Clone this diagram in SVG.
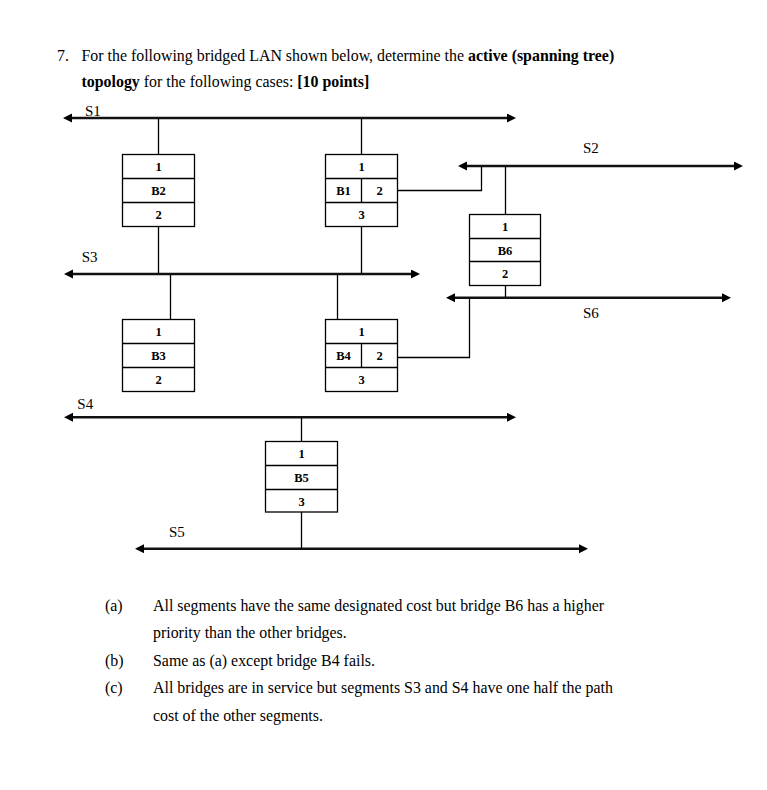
<svg xmlns="http://www.w3.org/2000/svg" width="767" height="790" viewBox="0 0 767 790">
<style>
.t{font-family:"Liberation Serif","Times New Roman",serif;font-size:15.9px;fill:#000}
.b{font-weight:bold}
.seg{stroke:#111;stroke-width:2.6;fill:none;marker-start:url(#ah);marker-end:url(#ah)}
.lab{font-family:"Liberation Serif","Times New Roman",serif;font-size:15px;fill:#000}
.box{fill:#fff;stroke:#000;stroke-width:1.3}
.div{stroke:#000;stroke-width:1.3}
.port{font-family:"Liberation Serif","Times New Roman",serif;font-size:12.5px;font-weight:bold;text-anchor:middle;fill:#000}
.con{stroke:#000;stroke-width:1.3;fill:none}
</style>
<defs>
<marker id="ah" markerUnits="userSpaceOnUse" markerWidth="10" markerHeight="10" refX="1" refY="4.5" orient="auto-start-reverse">
<path d="M0,0 L9,4.5 L0,9 z" fill="#000"/>
</marker>
</defs>
<rect width="767" height="790" fill="#fff"/>

<g id="question">
<text class="t" x="57" y="60.7">7.</text>
<text class="t" x="81.5" y="60.7">For the following bridged LAN shown below, determine the <tspan class="b">active (spanning tree)</tspan></text>
<text class="t" x="81.5" y="87"><tspan class="b">topology</tspan> for the following cases: <tspan class="b">[10 points]</tspan></text>
</g>

<g id="segments">
<line id="S1" class="seg" x1="71" y1="118" x2="508" y2="118"/>
<line id="S2" class="seg" x1="466" y1="166" x2="735" y2="166"/>
<line id="S3" class="seg" x1="72" y1="274" x2="412" y2="274"/>
<line id="S6" class="seg" x1="454" y1="297.7" x2="723" y2="297.7"/>
<line id="S4" class="seg" x1="72" y1="417.3" x2="508" y2="417.3"/>
<line id="S5" class="seg" x1="143" y1="548.7" x2="580" y2="548.7"/>
<text class="lab" x="85" y="115.5">S1</text>
<text class="lab" x="583" y="152.7">S2</text>
<text class="lab" x="81.7" y="262">S3</text>
<text class="lab" x="583" y="318">S6</text>
<text class="lab" x="77.3" y="409">S4</text>
<text class="lab" x="169" y="537.3">S5</text>
</g>

<g id="connectors">
<path class="con" d="M158.5,118 V154.5 M158.5,226.5 V274"/>
<path class="con" d="M361.5,118 V154.5 M361.5,226.5 V274"/>
<path class="con" d="M397.5,190.5 H481.5 V166"/>
<path class="con" d="M505.5,166 V214.5 M505.5,285.5 V297.7"/>
<path class="con" d="M170.5,274 V319.5"/>
<path class="con" d="M337.5,274 V319.5"/>
<path class="con" d="M397.5,357.5 H469.5 V297.7"/>
<path class="con" d="M301.5,417.3 V441.5 M301.5,512 V548.7"/>
</g>

<g id="B2">
<rect class="box" x="122.5" y="154.5" width="72" height="72"/>
<path class="div" d="M122.5,178.5 H194.5 M122.5,202.5 H194.5"/>
<text class="port" x="158.5" y="171">1</text>
<text class="port" x="158.5" y="195">B2</text>
<text class="port" x="158.5" y="219">2</text>
</g>

<g id="B1">
<rect class="box" x="325.5" y="154.5" width="72" height="72"/>
<path class="div" d="M325.5,178.5 H397.5 M325.5,202.5 H397.5 M361.5,178.5 V202.5"/>
<text class="port" x="361.5" y="171">1</text>
<text class="port" x="343.5" y="195">B1</text>
<text class="port" x="379.5" y="195">2</text>
<text class="port" x="361.5" y="219">3</text>
</g>

<g id="B6">
<rect class="box" x="469.5" y="214.5" width="71" height="71"/>
<path class="div" d="M469.5,238.5 H540.5 M469.5,261.5 H540.5"/>
<text class="port" x="505" y="231">1</text>
<text class="port" x="505" y="254.5">B6</text>
<text class="port" x="505" y="278">2</text>
</g>

<g id="B3">
<rect class="box" x="122.5" y="319.5" width="72" height="72"/>
<path class="div" d="M122.5,343.5 H194.5 M122.5,367.5 H194.5"/>
<text class="port" x="158.5" y="336">1</text>
<text class="port" x="158.5" y="360">B3</text>
<text class="port" x="158.5" y="384">2</text>
</g>

<g id="B4">
<rect class="box" x="325.5" y="319.5" width="72" height="72"/>
<path class="div" d="M325.5,343.5 H397.5 M325.5,367.5 H397.5 M361.5,343.5 V367.5"/>
<text class="port" x="361.5" y="336">1</text>
<text class="port" x="343.5" y="360">B4</text>
<text class="port" x="379.5" y="360">2</text>
<text class="port" x="361.5" y="384">3</text>
</g>

<g id="B5">
<rect class="box" x="265.5" y="441.5" width="72" height="70.5"/>
<path class="div" d="M265.5,465.5 H337.5 M265.5,489.5 H337.5"/>
<text class="port" x="301.5" y="458">1</text>
<text class="port" x="301.5" y="482">B5</text>
<text class="port" x="301.5" y="505.5">3</text>
</g>

<g id="cases">
<text class="t" x="105" y="610.7">(a)</text>
<text class="t" x="153" y="610.7">All segments have the same designated cost but bridge B6 has a higher</text>
<text class="t" x="153" y="638.3">priority than the other bridges.</text>
<text class="t" x="105" y="666">(b)</text>
<text class="t" x="153" y="666">Same as (a) except bridge B4 fails.</text>
<text class="t" x="105" y="693.3">(c)</text>
<text class="t" x="153" y="693.3">All bridges are in service but segments S3 and S4 have one half the path</text>
<text class="t" x="153" y="721">cost of the other segments.</text>
</g>
</svg>
